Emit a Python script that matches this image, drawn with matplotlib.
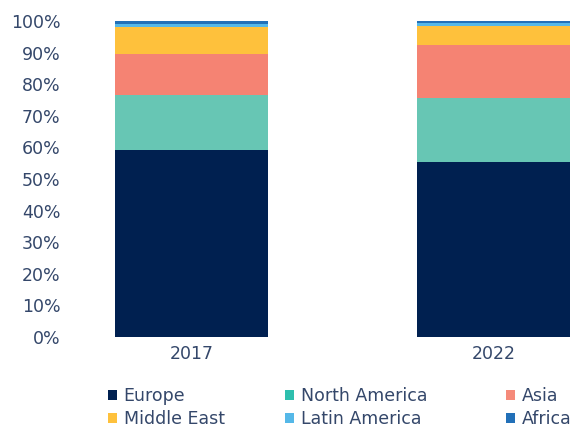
import matplotlib
matplotlib.use("Agg")
import matplotlib.pyplot as plt
from matplotlib.patches import Patch
import numpy as np

years = ["2017", "2022"]
regions = ["Europe", "North America", "Asia", "Middle East", "Latin America", "Africa"]
europe = [59.2, 55.5]
north_america = [17.4, 20.2]
asia = [13.0, 16.8]
middle_east = [8.4, 5.9]
latin_america = [1.05, 1.1]
africa = [0.95, 0.5]
series = [europe, north_america, asia, middle_east, latin_america, africa]

bar_colors = ["#002050", "#67c6b4", "#f58373", "#fec13c", "#55b8e8", "#2270b8"]
legend_colors = ["#002050", "#2ebfae", "#f58a7a", "#fec13c", "#55b8e8", "#2270b8"]
text_color = "#34476a"

plt.rcParams['font.family'] = ['DejaVu Sans']

fig = plt.figure(figsize=(5.76, 4.28), dpi=100)
W, H = 576, 428
ax = fig.add_axes([66 / W, (H - 337) / H, (576 - 66) / W, (337 - 21) / H])

x = np.arange(len(years))
bottom = np.zeros(len(years))
for vals, c in zip(series, bar_colors):
    v = np.array(vals)
    ax.bar(x, v, width=0.507, bottom=bottom, color=c, edgecolor='none')
    bottom += v

ax.set_ylim(0, 100)
ax.set_xlim(-0.416, 1.273)
ax.set_yticks(np.arange(0, 101, 10))
ax.set_yticklabels([f"{t}%" for t in range(0, 101, 10)])
ax.set_xticks(x)
ax.set_xticklabels(years)
ax.tick_params(axis='both', length=0, labelsize=12.5, colors=text_color)
ax.tick_params(axis='y', pad=4)
ax.tick_params(axis='x', pad=6)
for s in ax.spines.values():
    s.set_visible(False)

# legend: three columns of two entries each
cols = [(0, 3), (1, 4), (2, 5)]
col_x = [108, 285, 506]
for (a, b), cx in zip(cols, col_x):
    handles = [Patch(facecolor=legend_colors[i], edgecolor='none', label=regions[i]) for i in (a, b)]
    fig.legend(handles=handles, loc='upper left', bbox_to_anchor=(cx / W, 1 - 387 / H),
               frameon=False, fontsize=12.5, handlelength=0.5, handleheight=0.5,
               handletextpad=0.4, labelspacing=0.3, borderaxespad=0, borderpad=0,
               labelcolor=text_color)

fig.savefig("out.png", dpi=100)
